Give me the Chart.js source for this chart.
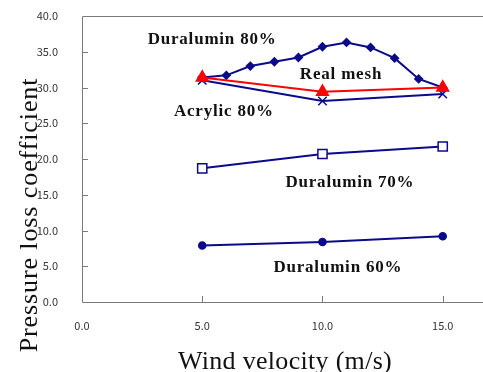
<!DOCTYPE html>
<html>
<head>
<meta charset="utf-8">
<script src="https://cdn.jsdelivr.net/npm/chart.js@4"></script>
<style>
  html, body { margin: 0; padding: 0; background: #fff; overflow: hidden; }
  #wrap { width: 483px; height: 372px; }
</style>
</head>
<body>
<div id="wrap"><canvas id="c" width="483" height="372"></canvas></div>
<script>
// Wind velocity (m/s)
const velocityFine = [5, 6, 7, 8, 9, 10, 11, 12, 13, 14, 15];
const velocityCoarse = [5, 10, 15];

// Pressure loss coefficient per screen type
const duralumin80 = [31.4, 31.7, 33.0, 33.6, 34.2, 35.7, 36.3, 35.6, 34.1, 31.2, 30.0];
const realMesh = [31.4, 29.4, 30.0];
const acrylic80 = [31.0, 28.1, 29.1];
const duralumin70 = [18.7, 20.7, 21.75];
const duralumin60 = [7.9, 8.4, 9.2];

// In-plot series labels: [text, x, y] in data units
const seriesLabels = [
  ['Duralumin 80%', 5.41, 36.8],
  ['Real mesh', 10.77, 31.9],
  ['Acrylic 80%', 5.90, 26.7],
  ['Duralumin 70%', 11.14, 16.8],
  ['Duralumin 60%', 10.64, 4.9]
];

const xTickLabels = ['0.0', '5.0', '10.0', '15.0'];
const navy = '#0a0a8a';

const pts = (xs, ys) => xs.map((x, i) => ({ x, y: ys[i] }));

const framePlugin = {
  id: 'frame',
  afterDraw(chart) {
    const { ctx, chartArea: a, scales } = chart;
    ctx.save();
    // plot frame (right edge runs past the canvas)
    ctx.strokeStyle = '#7a7a7a';
    ctx.lineWidth = 1;
    ctx.beginPath();
    ctx.moveTo(chart.width + 2, a.top + 0.5);
    ctx.lineTo(a.left + 0.5, a.top + 0.5);
    ctx.lineTo(a.left + 0.5, a.bottom + 0.5);
    ctx.lineTo(chart.width + 2, a.bottom + 0.5);
    ctx.stroke();
    // series labels
    ctx.fillStyle = '#111';
    ctx.font = 'bold 17px "Liberation Serif", "Times New Roman", serif';
    ctx.letterSpacing = '0.8px';
    ctx.textAlign = 'center';
    ctx.textBaseline = 'middle';
    seriesLabels.forEach(([t, x, y]) => {
      ctx.fillText(t, scales.x.getPixelForValue(x), scales.y.getPixelForValue(y) + 1);
    });
    // axis titles
    ctx.font = '26px "Liberation Serif", "Times New Roman", serif';
    ctx.letterSpacing = '0.3px';
    ctx.fillText('Wind velocity (m/s)', 285, 362);
    ctx.letterSpacing = '0.9px';
    ctx.translate(30, 215);
    ctx.rotate(-Math.PI / 2);
    ctx.fillText('Pressure loss coefficient', 0, 0);
    ctx.restore();
  }
};

new Chart(document.getElementById('c'), {
  type: 'line',
  data: {
    datasets: [
      {
        label: 'Real mesh', data: pts(velocityCoarse, realMesh), order: 0,
        borderColor: '#ff0000', backgroundColor: '#ff0000', borderWidth: 2,
        pointStyle: 'triangle', pointRadius: 6.3
      },
      {
        label: 'Duralumin 80%', data: pts(velocityFine, duralumin80), order: 1,
        borderColor: navy, backgroundColor: navy, borderWidth: 2,
        pointStyle: 'rectRot', pointRadius: 3.5
      },
      {
        label: 'Acrylic 80%', data: pts(velocityCoarse, acrylic80), order: 2,
        borderColor: navy, backgroundColor: navy, borderWidth: 2,
        pointStyle: 'crossRot', pointRadius: 6, pointBorderWidth: 1.5
      },
      {
        label: 'Duralumin 70%', data: pts(velocityCoarse, duralumin70), order: 3,
        borderColor: navy, backgroundColor: '#ffffff', borderWidth: 2,
        pointStyle: 'rect', pointRadius: 6.5, pointBorderWidth: 1.5
      },
      {
        label: 'Duralumin 60%', data: pts(velocityCoarse, duralumin60), order: 4,
        borderColor: navy, backgroundColor: navy, borderWidth: 2,
        pointStyle: 'circle', pointRadius: 3.3
      }
    ]
  },
  options: {
    responsive: false,
    animation: false,
    events: [],
    layout: { padding: { top: 16, right: 0, left: 0, bottom: 0 } },
    plugins: { legend: { display: false }, tooltip: { enabled: false } },
    scales: {
      x: {
        type: 'linear', min: 0, max: 16.33,
        afterFit(s) { s.height = 70; s.paddingLeft = 0; s.paddingRight = 0; },
        afterBuildTicks(s) { s.ticks = [0, 5, 10, 15].map(v => ({ value: v })); },
        grid: { display: false, drawTicks: false },
        border: { display: false },
        ticks: {
          padding: 17, color: '#333',
          font: { family: '"Noto Sans CJK JP", "Liberation Sans", sans-serif', size: 11 },
          callback: (v) => xTickLabels[v / 5]
        }
      },
      y: {
        min: 0, max: 40,
        afterFit(s) { s.width = 82; s.paddingTop = 0; s.paddingBottom = 0; },
        grid: { display: false, drawTicks: false },
        border: { display: false },
        ticks: {
          stepSize: 5, padding: 24, color: '#333',
          font: { family: '"Noto Sans CJK JP", "Liberation Sans", sans-serif', size: 11 },
          callback: (v) => v.toFixed(1)
        }
      }
    }
  },
  plugins: [framePlugin, {
    id: 'innerTicks',
    afterDraw(chart) {
      const { ctx, chartArea: a, scales } = chart;
      ctx.save();
      ctx.strokeStyle = '#7a7a7a';
      ctx.lineWidth = 1;
      ctx.beginPath();
      for (let v = 5; v < 40; v += 5) {
        const y = Math.round(scales.y.getPixelForValue(v)) + 0.5;
        ctx.moveTo(a.left, y); ctx.lineTo(a.left + 6, y);
      }
      for (let v = 5; v <= 15; v += 5) {
        const x = Math.round(scales.x.getPixelForValue(v)) + 0.5;
        ctx.moveTo(x, a.bottom); ctx.lineTo(x, a.bottom - 6);
      }
      ctx.stroke();
      ctx.restore();
    }
  }]
});
</script>
</body>
</html>
